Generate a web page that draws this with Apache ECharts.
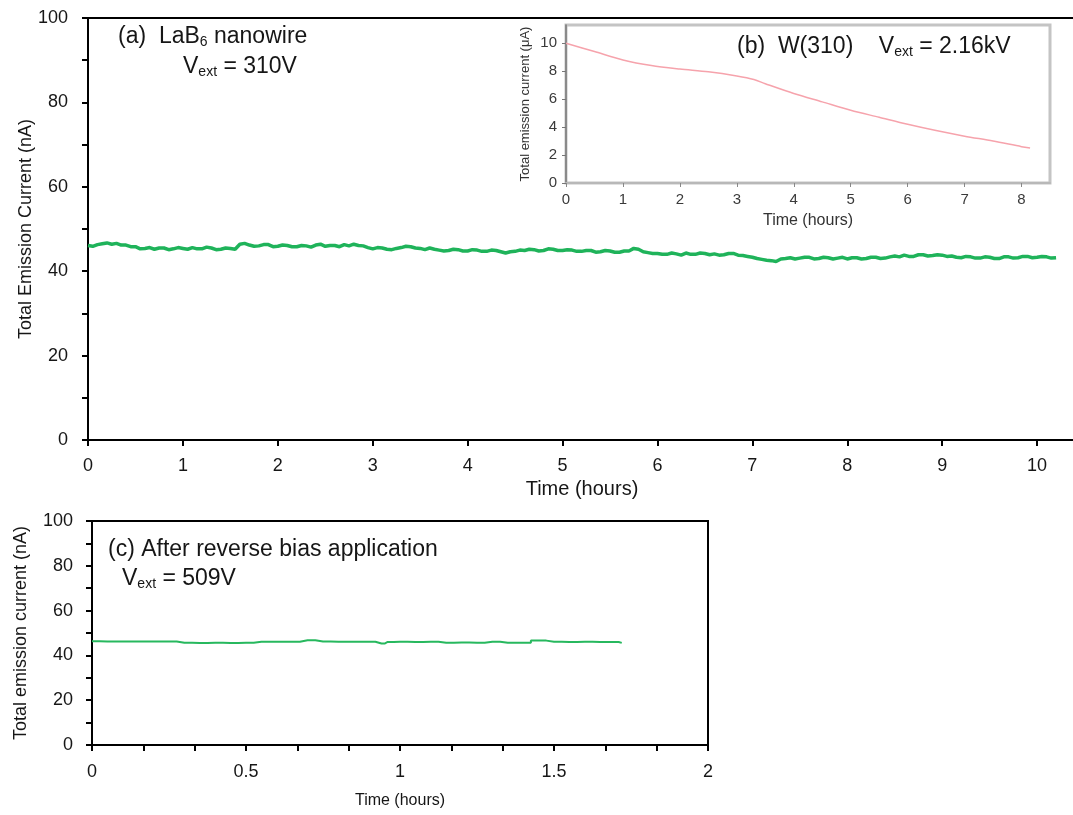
<!DOCTYPE html>
<html lang="en">
<head>
    <meta charset="UTF-8">
    <title>Total emission current vs time</title>
    <script src="https://cdn.jsdelivr.net/npm/echarts@6/dist/echarts.min.js"></script>
    <style>
        html, body { margin: 0; padding: 0; background: #fff; }
        #chart { width: 1073px; height: 815px; }
    </style>
</head>
<body>
<div id="chart"></div>
<script type="text/javascript">
// (a) LaB6 nanowire, one reading every 0.05 h from 0 h (one row per hour)
var aStep = 0.05;
var aCurrent = [
    46.1, 45.9, 46.3, 46.5, 46.7, 46.4, 46.6, 46.2, 46.2, 45.8, 45.8, 45.3, 45.4, 45.6, 45.2, 45.5, 45.5, 45.1, 45.3, 45.6,
    45.4, 45.2, 45.6, 45.3, 45.3, 45.7, 45.5, 45.1, 45.2, 45.5, 45.4, 45.2, 46.4, 46.6, 46.2, 45.9, 46.0, 46.3, 46.3, 45.8,
    45.9, 46.2, 46.1, 45.8, 45.8, 46.1, 46.0, 45.7, 46.2, 46.4, 45.9, 46.1, 46.1, 45.8, 46.3, 46.0, 46.4, 46.1, 46.0, 45.6,
    45.3, 45.6, 45.5, 45.2, 45.1, 45.4, 45.6, 45.9, 45.8, 45.5, 45.4, 45.1, 45.5, 45.2, 45.0, 44.8, 44.9, 45.2, 45.1, 44.8,
    44.8, 45.1, 45.0, 44.7, 44.7, 45.0, 44.9, 44.6, 44.3, 44.6, 44.7, 45.0, 44.9, 45.2, 45.1, 44.8, 44.9, 45.3, 45.2, 44.9,
    44.9, 45.1, 45.0, 44.7, 44.7, 44.9, 44.9, 44.5, 44.6, 44.9, 44.8, 44.5, 44.5, 44.8, 44.8, 45.4, 45.2, 44.6, 44.4, 44.2,
    44.2, 44.0, 44.0, 44.3, 44.1, 43.8, 44.3, 44.0, 44.0, 44.3, 44.2, 43.9, 44.1, 43.8, 43.9, 44.2, 44.2, 43.8, 43.7, 43.5,
    43.3, 43.0, 42.8, 42.6, 42.5, 42.3, 42.9, 43.0, 43.2, 42.9, 43.1, 43.3, 43.3, 42.9, 43.0, 43.3, 43.2, 42.9, 43.1, 43.3,
    42.9, 43.2, 43.2, 42.9, 43.0, 43.3, 43.3, 43.0, 43.1, 43.4, 43.6, 43.4, 43.8, 43.5, 43.5, 43.9, 43.9, 43.6, 43.7, 43.9,
    43.8, 43.5, 43.6, 43.3, 43.2, 43.5, 43.4, 43.1, 43.1, 43.4, 43.3, 43.0, 43.0, 43.4, 43.4, 43.1, 43.2, 43.5, 43.5, 43.2,
    43.3, 43.5, 43.4, 43.1, 43.2
];

// (b) W(310) inset, uA
var bTime = [0, 0.5, 1, 1.5, 2, 2.5, 3, 3.3, 3.5, 4, 4.5, 5, 5.5, 6, 6.5, 7, 7.5, 8, 8.15];
var bCurrent = [10, 9.4, 8.8, 8.4, 8.15, 7.95, 7.65, 7.4, 7.1, 6.4, 5.8, 5.2, 4.7, 4.2, 3.75, 3.35, 3.0, 2.6, 2.5];

// (c) after reverse bias
var cTime = [0, 0.05, 0.1, 0.15, 0.2, 0.25, 0.3, 0.35, 0.4, 0.45, 0.5, 0.55, 0.6, 0.65, 0.7, 0.75,
    0.8, 0.85, 0.9, 0.94, 0.96, 1.0, 1.05, 1.1, 1.15, 1.2, 1.25, 1.3, 1.35, 1.4, 1.45, 1.5,
    1.55, 1.6, 1.65, 1.7, 1.72];
var cCurrent = [46.3, 46.2, 46.2, 46.2, 46.2, 46.2, 45.6, 45.5, 45.6, 45.5, 45.6, 46.1, 46.1, 46.1, 46.8, 46.2,
    46.1, 46.1, 46.1, 45.3, 46.0, 46.1, 46.0, 46.1, 45.6, 45.8, 45.6, 46.1, 45.6, 45.6, 46.6, 46.1,
    46.0, 46.1, 46.0, 46.0, 45.6];

var hourTicks = [0, 1, 2, 3, 4, 5, 6, 7, 8, 9, 10];

var aData = aCurrent.map(function (v, i) { return [+(i * aStep).toFixed(2), v]; });
var bData = bTime.map(function (t, i) { return [t, bCurrent[i]]; });
var cData = cTime.map(function (t, i) { return [t, cCurrent[i]]; });

var FONT = 'Liberation Sans, Arial, sans-serif';
var ink = '#161616';

// text with a subscript part, e.g. V_ext
function titleItem(left, top, main, s, rest, size) {
    var txt = '{t|' + main + '}' + (s ? '{s|' + s + '}' : '') + (rest ? '{t|' + rest + '}' : '');
    return {
        left: left, top: top, padding: 0, text: txt,
        textStyle: {
            rich: {
                t: { fontSize: size, color: ink, fontFamily: FONT, fontWeight: 'normal' },
                s: { fontSize: Math.round(size * 0.62), color: ink, fontFamily: FONT, fontWeight: 'normal',
                    padding: [Math.round(size * 0.45), 0, 0, 0] }
            }
        }
    };
}

var blackAxis = { show: true, lineStyle: { color: '#000', width: 2 } };
var blackTick = { show: true, length: 6, lineStyle: { color: '#000', width: 2 } };

var myChart = echarts.init(document.getElementById('chart'), null, { renderer: 'canvas' });

var option = {
    backgroundColor: '#fff',
    animation: false,
    title: [
        titleItem(118, 25, '(a)  LaB', '6', ' nanowire', 23),
        titleItem(183, 55, 'V', 'ext', ' = 310V', 23),
        titleItem(737, 35, '(b)  W(310)    V', 'ext', ' = 2.16kV', 23),
        titleItem(108, 538, '(c) After reverse bias application', '', '', 23),
        titleItem(122, 567, 'V', 'ext', ' = 509V', 23)
    ],
    grid: [
        { left: 88, top: 18, width: 988, height: 422, show: true, borderColor: '#000', borderWidth: 2, outerBoundsMode: 'none' },
        { left: 566, top: 25, width: 484, height: 158, show: true, backgroundColor: '#fff', borderColor: '#c4c4c4', borderWidth: 3, outerBoundsMode: 'none', z: 5 },
        { left: 92, top: 521, width: 616, height: 224, show: true, borderColor: '#000', borderWidth: 2, outerBoundsMode: 'none' }
    ],
    xAxis: [
        {
            gridIndex: 0, type: 'value', min: 0, max: 10.41, interval: 1,
            name: 'Time (hours)', nameLocation: 'middle', nameGap: 37,
            nameTextStyle: { fontSize: 20, color: ink, fontFamily: FONT },
            axisLine: blackAxis, axisTick: blackTick, splitLine: { show: false },
            axisLabel: { fontSize: 18, color: ink, fontFamily: FONT, margin: 17, showMaxLabel: false,
                formatter: function (v) { return hourTicks.indexOf(v) >= 0 ? String(v) : ''; } }
        },
        {
            gridIndex: 1, type: 'value', min: 0, max: 8.5, interval: 1, z: 6,
            name: 'Time (hours)', nameLocation: 'middle', nameGap: 30,
            nameTextStyle: { fontSize: 16, color: '#333', fontFamily: FONT },
            axisLine: { show: true, lineStyle: { color: '#b8b8b8', width: 2 } },
            axisTick: { show: true, length: 4, lineStyle: { color: '#888', width: 1 } },
            splitLine: { show: false },
            axisLabel: { fontSize: 15, color: '#3a3a3a', fontFamily: FONT, margin: 9, showMaxLabel: false }
        },
        {
            gridIndex: 2, type: 'value', min: 0, max: 2, interval: 0.5,
            name: 'Time (hours)', nameLocation: 'middle', nameGap: 48,
            nameTextStyle: { fontSize: 16, color: ink, fontFamily: FONT },
            axisLine: blackAxis, axisTick: blackTick,
            minorTick: { show: true, splitNumber: 3, length: 6, lineStyle: { color: '#000', width: 2 } },
            splitLine: { show: false }, minorSplitLine: { show: false },
            axisLabel: { fontSize: 18, color: ink, fontFamily: FONT, margin: 18 }
        }
    ],
    yAxis: [
        {
            gridIndex: 0, type: 'value', min: 0, max: 100, interval: 20,
            name: 'Total Emission Current (nA)', nameLocation: 'middle', nameGap: 53, nameMoveOverlap: false,
            nameTextStyle: { fontSize: 18, color: ink, fontFamily: FONT },
            axisLine: blackAxis, axisTick: blackTick,
            minorTick: { show: true, splitNumber: 2, length: 6, lineStyle: { color: '#000', width: 2 } },
            splitLine: { show: false }, minorSplitLine: { show: false },
            axisLabel: { fontSize: 18, color: ink, fontFamily: FONT, margin: 20 }
        },
        {
            gridIndex: 1, type: 'value', min: 0, max: 11.3, interval: 2, z: 6,
            name: 'Total emission current (\u03bcA)', nameLocation: 'middle', nameGap: 34,
            nameTextStyle: { fontSize: 13, color: '#333', fontFamily: FONT },
            axisLine: { show: true, lineStyle: { color: '#777', width: 1.5 } },
            axisTick: { show: true, length: 4, lineStyle: { color: '#777', width: 1 } },
            splitLine: { show: false },
            axisLabel: { fontSize: 15, color: '#3a3a3a', fontFamily: FONT, margin: 9, showMaxLabel: false }
        },
        {
            gridIndex: 2, type: 'value', min: 0, max: 100, interval: 20,
            name: 'Total emission current (nA)', nameLocation: 'middle', nameGap: 62,
            nameTextStyle: { fontSize: 18, color: ink, fontFamily: FONT },
            axisLine: blackAxis, axisTick: blackTick,
            minorTick: { show: true, splitNumber: 2, length: 6, lineStyle: { color: '#000', width: 2 } },
            splitLine: { show: false }, minorSplitLine: { show: false },
            axisLabel: { fontSize: 18, color: ink, fontFamily: FONT, margin: 19 }
        }
    ],
    series: [
        {
            name: '(a)', type: 'line', xAxisIndex: 0, yAxisIndex: 0, data: aData,
            showSymbol: false, lineStyle: { color: '#1fb35a', width: 3.5 }, z: 2
        },
        {
            name: '(b)', type: 'line', xAxisIndex: 1, yAxisIndex: 1, data: bData, smooth: 0.3,
            showSymbol: false, lineStyle: { color: '#f6a3ac', width: 1.5 }, z: 7
        },
        {
            name: '(c)', type: 'line', xAxisIndex: 2, yAxisIndex: 2, data: cData, step: 'middle',
            showSymbol: false, lineStyle: { color: '#27b85e', width: 2 }, z: 2
        }
    ]
};

myChart.setOption(option);
</script>
</body>
</html>
